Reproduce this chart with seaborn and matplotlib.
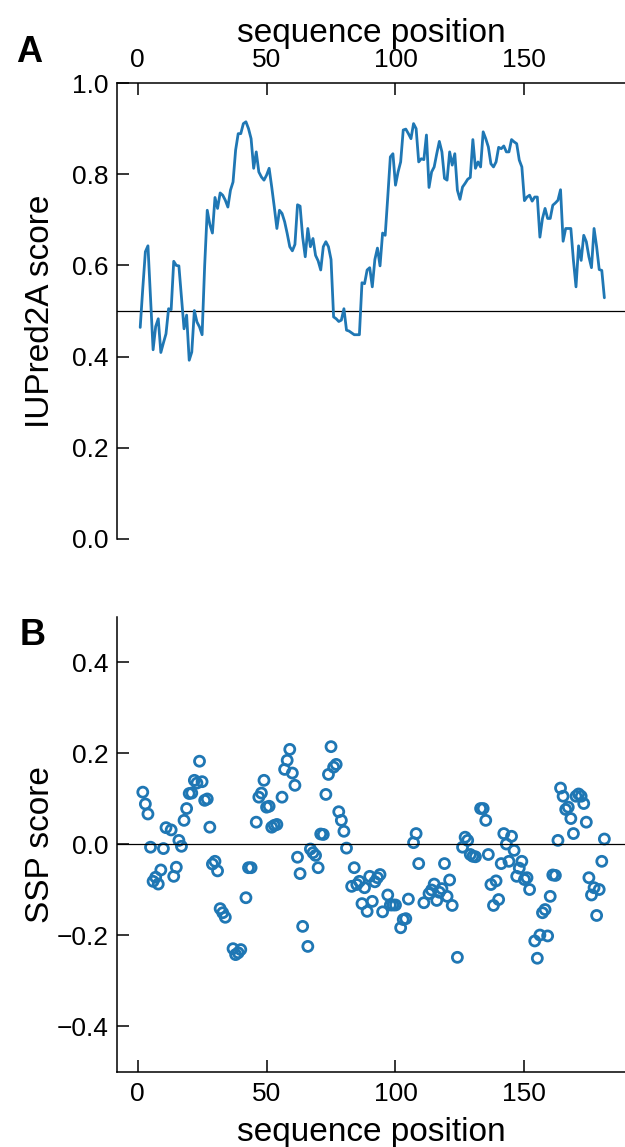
import numpy as np
import pandas as pd
import matplotlib
matplotlib.use("Agg")
import matplotlib.pyplot as plt
import seaborn as sns

# ---------------- data ----------------
iupred_pos = list(range(1, 182))
iupred_score = [
    0.464, 0.550, 0.630, 0.643, 0.530, 0.415, 0.466, 0.483, 0.409, 0.430,
    0.450, 0.505, 0.503, 0.609, 0.600, 0.599, 0.530, 0.461, 0.491, 0.392,
    0.410, 0.501, 0.476, 0.465, 0.448, 0.600, 0.721, 0.690, 0.671, 0.749,
    0.725, 0.759, 0.754, 0.743, 0.728, 0.765, 0.783, 0.853, 0.889, 0.889,
    0.911, 0.915, 0.900, 0.878, 0.813, 0.849, 0.805, 0.794, 0.787, 0.798,
    0.813, 0.772, 0.728, 0.681, 0.721, 0.714, 0.696, 0.670, 0.641, 0.632,
    0.646, 0.733, 0.730, 0.662, 0.619, 0.681, 0.641, 0.659, 0.622, 0.610,
    0.590, 0.641, 0.652, 0.641, 0.613, 0.487, 0.483, 0.477, 0.480, 0.505,
    0.458, 0.456, 0.452, 0.448, 0.448, 0.448, 0.562, 0.560, 0.590, 0.595,
    0.553, 0.613, 0.638, 0.599, 0.671, 0.666, 0.750, 0.838, 0.845, 0.776,
    0.805, 0.827, 0.897, 0.899, 0.889, 0.878, 0.911, 0.900, 0.827, 0.834,
    0.832, 0.886, 0.771, 0.805, 0.816, 0.845, 0.872, 0.849, 0.791, 0.787,
    0.849, 0.820, 0.845, 0.765, 0.745, 0.772, 0.780, 0.789, 0.793, 0.876,
    0.813, 0.827, 0.816, 0.893, 0.878, 0.860, 0.823, 0.816, 0.827, 0.859,
    0.856, 0.862, 0.849, 0.849, 0.876, 0.871, 0.867, 0.831, 0.816, 0.742,
    0.750, 0.754, 0.741, 0.750, 0.750, 0.662, 0.703, 0.725, 0.703, 0.703,
    0.732, 0.737, 0.743, 0.766, 0.653, 0.681, 0.681, 0.681, 0.611, 0.553,
    0.643, 0.611, 0.666, 0.652, 0.619, 0.595, 0.681, 0.641, 0.591, 0.589,
    0.529,
]

ssp_pos = [
    2, 3, 4, 5, 6, 7, 8, 9, 10, 11, 13, 14, 15, 16, 17, 18, 19, 20, 21, 22,
    23, 24, 25, 26, 27, 28, 29, 30, 31, 32, 33, 34, 37, 38, 39, 40, 42, 43, 44, 46,
    47, 48, 49, 50, 51, 52, 53, 54, 56, 57, 58, 59, 60, 61, 62, 63, 64, 66, 67, 68,
    69, 70, 71, 72, 73, 74, 75, 76, 77, 78, 79, 80, 81, 83, 84, 85, 86, 87, 88, 89,
    90, 91, 92, 93, 94, 95, 97, 98, 99, 100, 102, 103, 104, 105, 107, 108, 109, 111, 113, 114,
    115, 116, 117, 118, 119, 120, 121, 122, 124, 126, 127, 128, 129, 130, 131, 133, 134, 135, 136, 137,
    138, 139, 140, 141, 142, 143, 144, 145, 146, 147, 148, 149, 150, 151, 152, 154, 155, 156, 157, 158,
    159, 160, 161, 162, 163, 164, 165, 166, 167, 168, 169, 170, 171, 172, 173, 174, 175, 176, 177, 178,
    179, 180, 181,
]
ssp_score = [
    0.115, 0.089, 0.067, -0.006, -0.081, -0.072, -0.087, -0.056, -0.009, 0.037,
    0.032, -0.070, -0.050, 0.009, -0.004, 0.053, 0.079, 0.112, 0.113, 0.141,
    0.135, 0.183, 0.138, 0.097, 0.100, 0.038, -0.043, -0.037, -0.058, -0.141,
    -0.150, -0.160, -0.229, -0.242, -0.238, -0.231, -0.117, -0.051, -0.051, 0.049,
    0.104, 0.113, 0.141, 0.082, 0.084, 0.038, 0.042, 0.044, 0.104, 0.165,
    0.185, 0.209, 0.157, 0.130, -0.028, -0.064, -0.180, -0.224, -0.010, -0.018,
    -0.024, -0.051, 0.023, 0.022, 0.110, 0.154, 0.215, 0.170, 0.176, 0.072,
    0.053, 0.029, -0.008, -0.092, -0.051, -0.088, -0.081, -0.130, -0.095, -0.147,
    -0.070, -0.125, -0.082, -0.073, -0.066, -0.148, -0.111, -0.133, -0.133, -0.133,
    -0.183, -0.165, -0.163, -0.120, 0.004, 0.024, -0.042, -0.128, -0.108, -0.100,
    -0.087, -0.123, -0.105, -0.097, -0.042, -0.114, -0.078, -0.134, -0.248, -0.006,
    0.016, 0.009, -0.022, -0.026, -0.027, 0.079, 0.079, 0.053, -0.022, -0.088,
    -0.134, -0.080, -0.121, -0.042, 0.024, 0.001, -0.037, 0.018, -0.013, -0.070,
    -0.052, -0.037, -0.077, -0.073, -0.099, -0.212, -0.250, -0.199, -0.150, -0.143,
    -0.201, -0.114, -0.067, -0.068, 0.009, 0.124, 0.106, 0.077, 0.082, 0.057,
    0.024, 0.106, 0.111, 0.106, 0.090, 0.049, -0.073, -0.111, -0.095, -0.156,
    -0.099, -0.037, 0.012,
]

x_ticks = [0, 50, 100, 150]
top_y_ticks = [0.0, 0.2, 0.4, 0.6, 0.8, 1.0]
bot_y_ticks = [-0.4, -0.2, 0.0, 0.2, 0.4]
x_label = "sequence position"
top_y_label = "IUPred2A score"
bot_y_label = "SSP score"
iupred_threshold = 0.5
ssp_baseline = 0.0

df_line = pd.DataFrame({"pos": iupred_pos, "score": iupred_score})
df_ssp = pd.DataFrame({"pos": ssp_pos, "score": ssp_score})

# ---------------- style ----------------
sns.set_style("ticks")
plt.rcParams["font.family"] = ["Liberation Sans", "DejaVu Sans"]
plt.rcParams["text.color"] = "black"
plt.rcParams["axes.labelcolor"] = "black"
plt.rcParams["xtick.color"] = "black"
plt.rcParams["ytick.color"] = "black"
blue = "#1f77b4"
TICK_FS = 19
LABEL_FS = 24

fig = plt.figure(figsize=(6.25, 11.47), dpi=100)
ax1 = fig.add_axes([0.1872, 0.5301, 0.8128, 0.3975])
ax2 = fig.add_axes([0.1872, 0.0654, 0.8128, 0.3967])

# ---- panel A ----
sns.lineplot(data=df_line, x="pos", y="score", ax=ax1, color=blue, lw=2.0)
ax1.axhline(iupred_threshold, color="black", lw=0.9, zorder=1)
ax1.set_xlim(-8, 189)
ax1.set_ylim(0, 1.0)
ax1.set_xticks(x_ticks)
ax1.set_yticks(top_y_ticks)
ax1.set_yticklabels([f"{t:.1f}" for t in top_y_ticks])
ax1.xaxis.set_ticks_position("top")
ax1.xaxis.set_label_position("top")
ax1.set_xlabel(x_label, fontsize=LABEL_FS, labelpad=4)
ax1.set_ylabel(top_y_label, fontsize=LABEL_FS)
for s in ["right", "bottom"]:
    ax1.spines[s].set_visible(False)

# ---- panel B ----
sns.scatterplot(data=df_ssp, x="pos", y="score", ax=ax2, marker="o",
                facecolor="none", edgecolor=blue, linewidth=2.0, s=52)
ax2.axhline(ssp_baseline, color="black", lw=0.9, zorder=1)
ax2.set_xlim(-8, 189)
ax2.set_ylim(-0.5, 0.5)
ax2.set_xticks(x_ticks)
ax2.set_yticks(bot_y_ticks)
ax2.set_yticklabels([f"{t:.1f}".replace("-", "\u2212") for t in bot_y_ticks])
ax2.set_xlabel(x_label, fontsize=LABEL_FS, labelpad=8)
ax2.set_ylabel(bot_y_label, fontsize=LABEL_FS)
for s in ["right", "top"]:
    ax2.spines[s].set_visible(False)

for ax in (ax1, ax2):
    ax.tick_params(direction="in", length=8.5, width=1.1, labelsize=TICK_FS,
                   pad=6, color="black", labelcolor="black")
    for s in ax.spines.values():
        s.set_linewidth(1.1)
        s.set_color("black")
    ax.yaxis.set_label_coords(-0.12, 0.5)
ax1.tick_params(axis="x", pad=8)
ax2.tick_params(axis="x", pad=7)

fig.text(0.026, 0.939, "A", fontsize=26, fontweight="bold", va="bottom", ha="left")
fig.text(0.032, 0.431, "B", fontsize=26, fontweight="bold", va="bottom", ha="left")

fig.savefig("out.png", dpi=100)
